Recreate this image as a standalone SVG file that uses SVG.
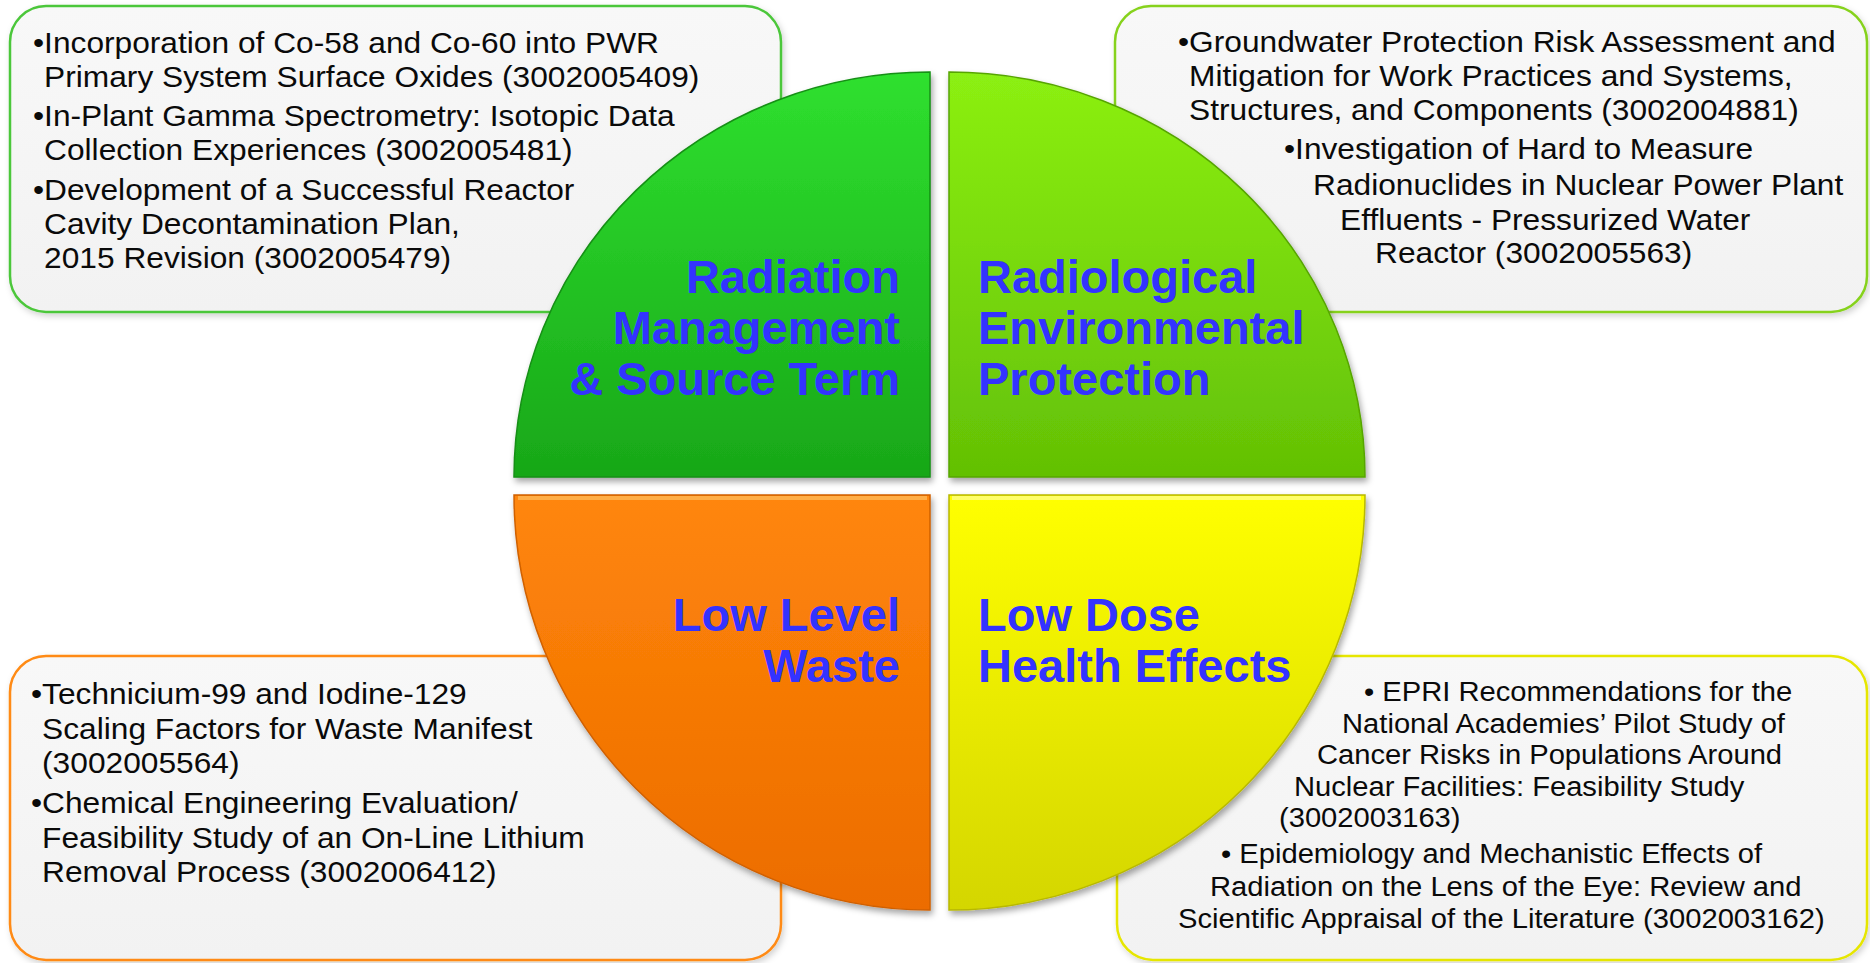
<svg xmlns="http://www.w3.org/2000/svg" width="1870" height="963" viewBox="0 0 1870 963">
<style>
  .box{fill:url(#boxFill);stroke-width:2.5;filter:url(#boxShadow)}
  .body{font-family:"Liberation Sans",Arial,sans-serif;font-size:29.5px;fill:#0a0a0a}
  .bodyS{font-family:"Liberation Sans",Arial,sans-serif;font-size:27px;fill:#0a0a0a}
  .lbl{font-family:"Liberation Sans",Arial,sans-serif;font-size:47px;font-weight:bold;fill:#3333FF}
  .quad{filter:url(#quadShadow);stroke-width:1.5}
</style>
<defs>
  <linearGradient id="boxFill" x1="0" y1="0" x2="0" y2="1">
    <stop offset="0" stop-color="#F8F8F8"/>
    <stop offset="1" stop-color="#F2F2F2"/>
  </linearGradient>
  <linearGradient id="gTL" x1="0" y1="0" x2="0" y2="1">
    <stop offset="0" stop-color="#2FE02F"/>
    <stop offset="1" stop-color="#18A718"/>
  </linearGradient>
  <linearGradient id="gTR" x1="0" y1="0" x2="0" y2="1">
    <stop offset="0" stop-color="#8CF012"/>
    <stop offset="1" stop-color="#63C005"/>
  </linearGradient>
  <linearGradient id="gBL" x1="0" y1="0" x2="0" y2="1">
    <stop offset="0" stop-color="#FF860A"/>
    <stop offset="1" stop-color="#EC6C00"/>
  </linearGradient>
  <linearGradient id="gBR" x1="0" y1="0" x2="0" y2="1">
    <stop offset="0" stop-color="#FFFF00"/>
    <stop offset="1" stop-color="#D4D600"/>
  </linearGradient>
  <filter id="quadShadow" x="-10%" y="-10%" width="120%" height="120%">
    <feDropShadow dx="2" dy="4" stdDeviation="3" flood-color="#000" flood-opacity="0.35"/>
  </filter>
  <filter id="boxShadow" x="-5%" y="-5%" width="110%" height="115%">
    <feDropShadow dx="2" dy="3" stdDeviation="3" flood-color="#000" flood-opacity="0.18"/>
  </filter>
</defs>
<rect width="1870" height="963" fill="#FFFFFF"/>

<g id="box-radiation-management">
  <rect class="box" x="10" y="6" width="771" height="306" rx="36" stroke="#4CC73A"/>
</g>
<g id="box-radiological-environmental">
  <rect class="box" x="1115" y="6" width="752" height="306" rx="36" stroke="#86D21C"/>
</g>
<g id="box-low-level-waste">
  <rect class="box" x="10" y="656" width="771" height="304" rx="36" stroke="#FF8A12"/>
</g>
<g id="box-low-dose">
  <rect class="box" x="1117" y="656" width="750" height="304" rx="36" stroke="#E6E600"/>
</g>

<g id="connectors"/>

<g id="quad-radiation-management">
  <path class="quad" d="M930,477 L514,477 A416,405 0 0 1 930,72 Z" fill="url(#gTL)" stroke="#158F15"/>
  <text class="lbl" x="900" y="293" text-anchor="end">Radiation</text>
  <text class="lbl" x="900" y="344" text-anchor="end">Management</text>
  <text class="lbl" x="900" y="395" text-anchor="end">&amp; Source Term</text>
</g>
<g id="quad-radiological-environmental">
  <path class="quad" d="M949,477 L949,72 A416,405 0 0 1 1365,477 Z" fill="url(#gTR)" stroke="#57A505"/>
  <text class="lbl" x="978" y="293">Radiological</text>
  <text class="lbl" x="978" y="344">Environmental</text>
  <text class="lbl" x="978" y="395">Protection</text>
</g>
<g id="quad-low-level-waste">
  <path class="quad" d="M930,495 L930,910 A416,415 0 0 1 514,495 Z" fill="url(#gBL)" stroke="#D06000"/>
  <line x1="518" y1="498" x2="927" y2="498" stroke="#FFC060" stroke-width="4" opacity="0.7"/>
  <text class="lbl" x="900" y="631" text-anchor="end">Low Level</text>
  <text class="lbl" x="900" y="682" text-anchor="end">Waste</text>
</g>
<g id="quad-low-dose">
  <path class="quad" d="M949,495 L1365,495 A416,415 0 0 1 949,910 Z" fill="url(#gBR)" stroke="#B8B800"/>
  <line x1="952" y1="498" x2="1361" y2="498" stroke="#FFFF99" stroke-width="4" opacity="0.7"/>
  <text class="lbl" x="978" y="631">Low Dose</text>
  <text class="lbl" x="978" y="682">Health Effects</text>
</g>

<g id="text-radiation-management" transform="translate(33 0) scale(1.075 1)">
  <text class="body" x="0" y="53">•Incorporation of Co-58 and Co-60 into PWR</text>
  <text class="body" x="10.3" y="87">Primary System Surface Oxides (3002005409)</text>
  <text class="body" x="0" y="126">•In-Plant Gamma Spectrometry: Isotopic Data</text>
  <text class="body" x="10.3" y="160">Collection Experiences (3002005481)</text>
  <text class="body" x="0" y="200">•Development of a Successful Reactor</text>
  <text class="body" x="10.3" y="234">Cavity Decontamination Plan,</text>
  <text class="body" x="10.3" y="268">2015 Revision (3002005479)</text>
</g>
<g id="text-radiological-environmental" transform="translate(1178 0) scale(1.075 1)">
  <text class="body" x="0" y="52">•Groundwater Protection Risk Assessment and</text>
  <text class="body" x="10.3" y="86">Mitigation for Work Practices and Systems,</text>
  <text class="body" x="10.3" y="120">Structures, and Components (3002004881)</text>
  <text class="body" x="98.6" y="159">•Investigation of Hard to Measure</text>
  <text class="body" x="125.6" y="195">Radionuclides in Nuclear Power Plant</text>
  <text class="body" x="150.7" y="230">Effluents - Pressurized Water</text>
  <text class="body" x="183.3" y="263">Reactor (3002005563)</text>
</g>
<g id="text-low-level-waste" transform="translate(31 0) scale(1.075 1)">
  <text class="body" x="0" y="704">•Technicium-99 and Iodine-129</text>
  <text class="body" x="10.3" y="739">Scaling Factors for Waste Manifest</text>
  <text class="body" x="10.3" y="773">(3002005564)</text>
  <text class="body" x="0" y="813">•Chemical Engineering Evaluation/</text>
  <text class="body" x="10.3" y="848">Feasibility Study of an On-Line Lithium</text>
  <text class="body" x="10.3" y="882">Removal Process (3002006412)</text>
</g>
<g id="text-low-dose" transform="translate(1178 0) scale(1.08 1)">
  <text class="bodyS" x="172.2" y="701">• EPRI Recommendations for the</text>
  <text class="bodyS" x="151.9" y="733">National Academies’ Pilot Study of</text>
  <text class="bodyS" x="128.7" y="764">Cancer Risks in Populations Around</text>
  <text class="bodyS" x="107.4" y="796">Nuclear Facilities: Feasibility Study</text>
  <text class="bodyS" x="93.5" y="827">(3002003163)</text>
  <text class="bodyS" x="39.8" y="863">• Epidemiology and Mechanistic Effects of</text>
  <text class="bodyS" x="29.6" y="896">Radiation on the Lens of the Eye: Review and</text>
  <text class="bodyS" x="0" y="928">Scientific Appraisal of the Literature (3002003162)</text>
</g>
</svg>
